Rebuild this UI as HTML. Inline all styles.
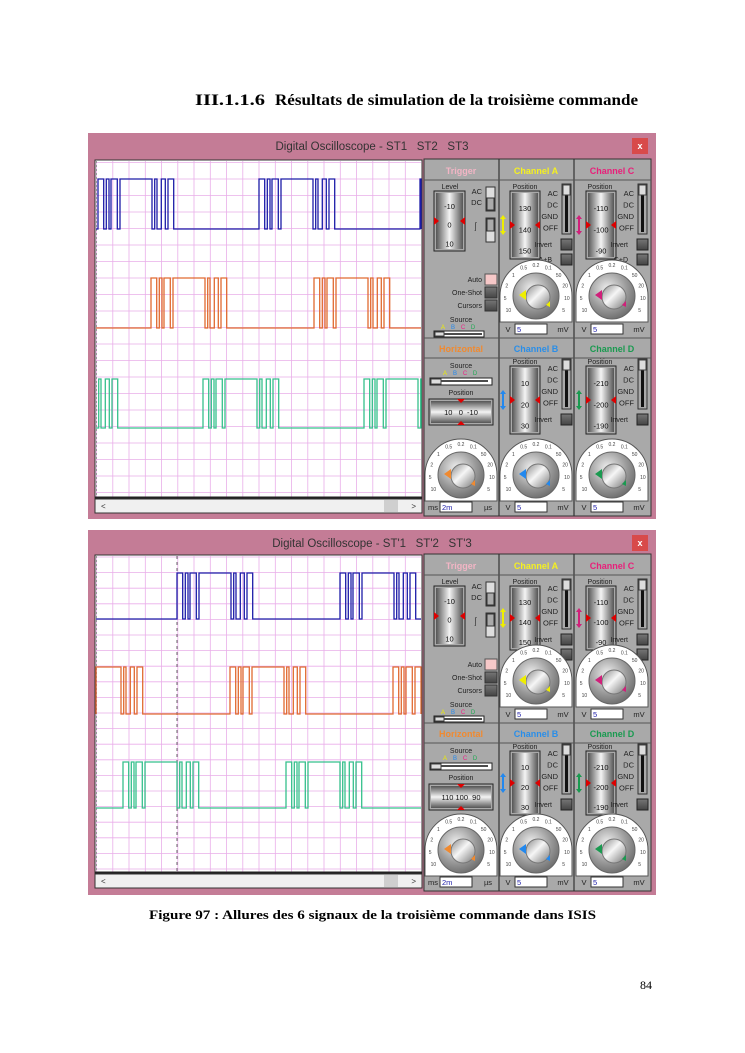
<!DOCTYPE html>
<html><head><meta charset="utf-8"><style>
html,body{margin:0;padding:0;background:#fff;width:745px;height:1053px;overflow:hidden}
svg{display:block}
</style></head><body>
<svg id="s" width="745" height="1053" viewBox="0 0 745 1053" xmlns="http://www.w3.org/2000/svg" font-family="Liberation Sans, sans-serif">
<defs>
<linearGradient id="sl" x1="0" x2="0" y1="0" y2="1"><stop offset="0" stop-color="#555"/><stop offset="0.5" stop-color="#f4f4f4"/><stop offset="1" stop-color="#555"/></linearGradient>
<linearGradient id="slh" x1="0" x2="1" y1="0" y2="0"><stop offset="0" stop-color="#555"/><stop offset="0.5" stop-color="#f4f4f4"/><stop offset="1" stop-color="#555"/></linearGradient>
<radialGradient id="kn" cx="0.4" cy="0.35" r="0.7"><stop offset="0" stop-color="#f0f0f0"/><stop offset="0.6" stop-color="#9a9a9a"/><stop offset="1" stop-color="#6a6a6a"/></radialGradient>
<linearGradient id="kc" x1="0" x2="1" y1="0" y2="1"><stop offset="0" stop-color="#888"/><stop offset="0.45" stop-color="#f6f6f6"/><stop offset="1" stop-color="#777"/></linearGradient>
<linearGradient id="bt" x1="0" x2="0" y1="0" y2="1"><stop offset="0" stop-color="#777"/><stop offset="1" stop-color="#444"/></linearGradient>
</defs>
<text x="195" y="105" font-family="Liberation Serif, serif" font-weight="bold" font-size="15.5" textLength="70" lengthAdjust="spacingAndGlyphs">III.1.1.6</text>
<text x="275" y="105" font-family="Liberation Serif, serif" font-weight="bold" font-size="15.5" textLength="363" lengthAdjust="spacingAndGlyphs">Résultats de simulation de la troisième commande</text>
<text x="149" y="919" font-family="Liberation Serif, serif" font-weight="bold" font-size="12.5" textLength="447" lengthAdjust="spacingAndGlyphs">Figure 97 : Allures des 6 signaux de la troisième commande dans ISIS</text>
<text x="640" y="989" font-family="Liberation Serif, serif" font-size="12">84</text>
<g id="g"></g>
</svg>
<script>
var o='';
function R(x,y,w,h,f,st,extra){o+='<rect x="'+x+'" y="'+y+'" width="'+w+'" height="'+h+'" fill="'+f+'"'+(st?' stroke="'+st+'" stroke-width="1"':'')+(extra||'')+'/>';}
function T(x,y,t,sz,c,anc,w){o+='<text x="'+x+'" y="'+y+'" font-size="'+sz+'" fill="'+c+'"'+(anc?' text-anchor="'+anc+'"':'')+(w?' font-weight="bold"':'')+'>'+t+'</text>';}
function L(x1,y1,x2,y2,c,w,extra){o+='<line x1="'+x1+'" y1="'+y1+'" x2="'+x2+'" y2="'+y2+'" stroke="'+c+'" stroke-width="'+(w||1)+'"'+(extra||'')+'/>';}
var P=[[0,5.7],[8.3,11],[13,19.3],[22,54],[56.7,59],[63.3,67.3],[70,75.7]];
function wave(s,per,yH,yL,xL,xR,c){
  var d='M'+xL+' '+yL;
  for(var k=-3;k<4;k++){var b=s+k*per;
    P.forEach(function(p){var a=b+p[0],e=b+p[1];if(e<=xL||a>=xR)return;a=Math.max(a,xL);e=Math.min(e,xR);
      d+=' L'+a.toFixed(1)+' '+yL+' L'+a.toFixed(1)+' '+yH+' L'+e.toFixed(1)+' '+yH+' L'+e.toFixed(1)+' '+yL;});}
  d+=' L'+xR+' '+yL;
  o+='<path d="'+d+'" fill="none" stroke="'+c+'" stroke-width="1.3"/>';
}
function dial(cx,cy,col){
  o+='<path d="M'+(cx-36)+' '+(cy+26)+' L'+(cx-36)+' '+cy+' A36 36 0 0 1 '+(cx+36)+' '+cy+' L'+(cx+36)+' '+(cy+26)+' Z" fill="#fff" stroke="#555" stroke-width="1"/>';
  var labs=['10','5','2','1','0.5','0.2','0.1','50','20','10','5'];
  for(var j=0;j<labs.length;j++){var an=Math.PI*(1.15-j*1.3/10);var x=cx+Math.cos(an)*31,y=cy-Math.sin(an)*31;
    T(x.toFixed(1),(y+2).toFixed(1),labs[j],5,'#444','middle');}
  o+='<circle cx="'+cx+'" cy="'+cy+'" r="23" fill="url(#kn)" stroke="#666"/>';
  o+='<circle cx="'+(cx+2)+'" cy="'+(cy+1)+'" r="12" fill="url(#kc)" stroke="#777"/>';
  o+='<path d="M'+(cx-17)+' '+(cy-1)+' l7 -5 l0 10 z" fill="'+col+'"/>';
  o+='<path d="M'+(cx+10)+' '+(cy+9)+' l4 -4 l0 6 z" fill="'+col+'"/>';
}
function vslider(x,y,w,h,vals,col){
  R(x-2,y-2,w+4,h+4,'#a9a9a9','#222');
  R(x,y,w,h,'url(#slh)');
  var n=vals.length;for(var i=0;i<n;i++){T(x+w/2,y+h*(i+0.75)/n+2,vals[i],7.5,'#111','middle');}
  o+='<path d="M'+(x-2)+' '+(y+h/2-4)+' l5 4 l-5 4z" fill="#d00"/><path d="M'+(x+w+2)+' '+(y+h/2-4)+' l-5 4 l5 4z" fill="#d00"/>';
  if(col){o+='<path d="M'+(x-9)+' '+(y+h/2-10)+' l-3 4 h6 z M'+(x-9)+' '+(y+h/2+10)+' l-3 -4 h6 z" fill="'+col+'"/>';L(x-9,y+h/2-7,x-9,y+h/2+7,col,2);}
}
function acdc(x,y,inv,extra){
  var lb=['AC','DC','GND','OFF'];for(var i=0;i<4;i++)T(x,y+i*11.5,lb[i],7.5,'#222','end');
  R(x+4,y-12,9,50,'#a9a9a9','#333');R(x+7,y-10,3,46,'#111');R(x+5,y-11,7,10,'#ddd','#444');
  T(x-6,y+51,'Invert',7,'#222','end');R(x+3,y+43,11,11,'url(#bt)','#222');
  if(extra){T(x-6,y+66,extra,7,'#222','end');R(x+3,y+58,11,11,'url(#bt)','#222');}
}
function vrow(cx,y,v,u,val){T(cx-28,y+8,v,7.5,'#222','middle');R(cx-21,y,32,10,'#fff','#333');T(cx-19,y+8,val,7.5,'#22a');T(cx+27,y+8,u,7.5,'#222','middle');}
function scope(c){
  var y0=c.y0,yb=c.yb;
  R(88,y0,568,yb-y0,'#c47c96');
  T(372,y0+17,c.title,11.5,'#333','middle');
  R(632,y0+5,16,16,'#d84a4a');T(640,y0+16,'x',9,'#fff','middle',1);
  R(95,c.sT-1,327,c.sB-c.sT+2,'#fff','#333');
  for(var x=96.5;x<421;x+=16.25)L(x.toFixed(1),c.sT,x.toFixed(1),c.sB,'#e9aee9',0.8);
  for(var y=c.gy;y<c.sB;y+=c.gs)L(96,y.toFixed(1),421,y.toFixed(1),'#e9aee9',0.8);
  for(var y=c.gy-c.gs;y>c.sT;y-=c.gs)L(96,y.toFixed(1),421,y.toFixed(1),'#e9aee9',0.8);
  L(96.5,c.sT,96.5,c.sB,'#999',1,' stroke-dasharray="2,2"');
  if(c.cur)L(c.cur,c.sT,c.cur,c.sB,'#666',1,' stroke-dasharray="3,3"');
  c.w.forEach(function(w){wave(w[0],w[1],w[2],w[3],96,421,w[4]);});
  L(95,c.sB+0.5,422,c.sB+0.5,'#222',2);
  R(95,c.sB+2,327,14,'#f0f0f0','#333');T(101,c.sB+12,'&lt;',8,'#333');T(416,c.sB+12,'&gt;',8,'#333','end');R(384,c.sB+3,14,12,'#cfcfcf');
  var pT=c.pT,h1=pT+21,h2=c.h2,h2b=h2+20,pE=c.pE;
  R(424,pT,227,pE-pT,'#a9a9a9','#333');
  [499,574].forEach(function(x){L(x,pT,x,pE,'#333',1.2);});
  L(424,h1,651,h1,'#555');L(424,h2,651,h2,'#555');L(424,h2b,651,h2b,'#555');
  T(461,pT+15,'Trigger',9,'#f2b5c5','middle',1);
  T(536,pT+15,'Channel A',9,'#f5f020','middle',1);
  T(612,pT+15,'Channel C',9,'#e8207a','middle',1);
  T(461,h2+14,'Horizontal',9,'#f08a30','middle',1);
  T(536,h2+14,'Channel B',9,'#2a8ee8','middle',1);
  T(612,h2+14,'Channel D',9,'#1a9a50','middle',1);
  T(450,h1+9,'Level',7,'#222','middle');
  vslider(436,h1+13,27,56,c.lvl,null);
  T(482,h1+14,'AC',7.5,'#222','end');T(482,h1+25,'DC',7.5,'#222','end');
  R(486,h1+7,9,24,'#ddd','#333');R(487,h1+18,7,12,'#aaa','#333');
  T(480,h1+50,'&#x23B0;',9,'#222','end');R(486,h1+38,9,24,'#ddd','#333');R(487,h1+39,7,12,'#aaa','#333');
  var ay=h2-64;
  T(482,ay+8,'Auto',7,'#222','end');R(485,ay,12,11,'#f6c8c8','#555');
  T(482,ay+21,'One-Shot',7,'#222','end');R(485,ay+13,12,11,'url(#bt)','#333');
  T(482,ay+34,'Cursors',7,'#222','end');R(485,ay+26,12,11,'url(#bt)','#333');
  T(461,h2-16,'Source',7,'#222','middle');
  T(443,h2-9,'A',6,'#ee0','middle');T(453,h2-9,'B',6,'#28e','middle');T(463,h2-9,'C',6,'#e28','middle');T(473,h2-9,'D',6,'#2a5','middle');
  R(434,h2-7,50,6,'#fff','#222');L(444,h2-4,482,h2-4,'#111',1.5);R(435,h2-6,9,4,'#ddd','#444');
  vslider(512,h1+13,26,c.posH,c.a,'#ee0');T(525,h1+9,'Position',7,'#222','middle');
  acdc(558,h1+16,1,'A+B');
  vslider(588,h1+13,26,c.posH,c.c,'#d0207a');T(600,h1+9,'Position',7,'#222','middle');
  acdc(634,h1+16,1,'C+D');
  dial(536,h2-42,'#ee0');dial(612,h2-42,'#d0207a');
  vrow(536,h2-14,'V','mV','5');vrow(612,h2-14,'V','mV','5');
  T(461,h2b+10,'Source',7,'#222','middle');
  T(445,h2b+17,'A',6,'#ee0','middle');T(455,h2b+17,'B',6,'#28e','middle');T(465,h2b+17,'C',6,'#e28','middle');T(475,h2b+17,'D',6,'#2a5','middle');
  R(430,h2b+20,62,7,'#fff','#222');L(440,h2b+23,488,h2b+23,'#111',1.5);R(431,h2b+21,10,5,'#ddd','#444');
  T(461,h2b+37,'Position',7,'#222','middle');
  R(429,h2b+41,64,26,'#a9a9a9','#222');R(431,h2b+43,60,22,'url(#sl)');
  T(461,h2b+57,c.hp,7.5,'#111','middle');
  o+='<path d="M457 '+(h2b+41)+' l4 4 l4 -4z M457 '+(h2b+67)+' l4 -4 l4 4z" fill="#d00"/>';
  vslider(512,h2b+10,26,c.posH,c.b,'#28e');T(525,h2b+6,'Position',7,'#222','middle');
  acdc(558,h2b+13,1,null);
  vslider(588,h2b+10,26,c.posH,c.d,'#1a9a50');T(600,h2b+6,'Position',7,'#222','middle');
  acdc(634,h2b+13,1,null);
  dial(461,pE-41,'#f08a30');dial(536,pE-41,'#28e');dial(612,pE-41,'#1a9a50');
  vrow(461,pE-14,'ms','µs','2m');vrow(536,pE-14,'V','mV','5');vrow(612,pE-14,'V','mV','5');
}
scope({y0:133,yb:519,title:'Digital Oscilloscope - ST1&#160;&#160;&#160;ST2&#160;&#160;&#160;ST3',sT:161,sB:497,gy:162.5,gs:16.5,cur:null,
  w:[[98,161,179,229,'#1c1ca8'],[151,163,278,328,'#e06a30'],[203,161,379,428,'#35c08c']],
  pT:159,h2:338,pE:516,posH:64,lvl:['-10','0','10'],a:['130','140','150'],c:['-110','-100','-90'],b:['10','20','30'],d:['-210','-200','-190'],hp:'10&#160;&#160;&#160;0&#160;&#160;-10'});
scope({y0:530,yb:895,title:'Digital Oscilloscope - ST\'1&#160;&#160;&#160;ST\'2&#160;&#160;&#160;ST\'3',sT:556,sB:872,gy:557,gs:15.6,cur:177,
  w:[[177,163,573,619,'#1c1ca8'],[230,163,667,714,'#e06a30'],[123,163,762,808,'#35c08c']],
  pT:554,h2:723,pE:891,posH:60,lvl:['-10','0','10'],a:['130','140','150'],c:['-110','-100','-90'],b:['10','20','30'],d:['-210','-200','-190'],hp:'110&#160;100&#160;&#160;90'});
document.getElementById('g').innerHTML=o;
</script>
</body></html>
